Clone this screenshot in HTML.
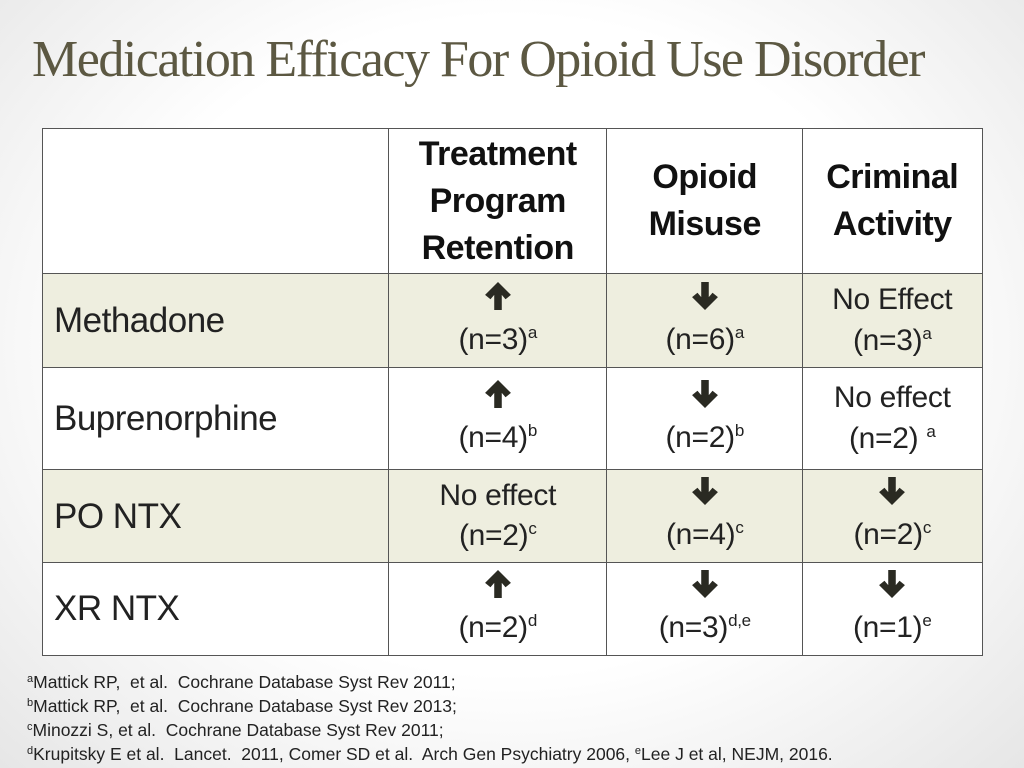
<!DOCTYPE html>
<html><head><meta charset="utf-8"><style>
body{margin:0;width:1024px;height:768px;overflow:hidden;font-family:"Liberation Sans",sans-serif;color:#222;
background:radial-gradient(ellipse at 50% 45%,#ffffff 55%,#e6e6e6 100%);position:relative}
#title{position:absolute;left:32px;top:30px;font-family:"Liberation Serif",serif;font-size:52px;color:#5c5842;letter-spacing:-1.5px;white-space:nowrap}
.cell{position:absolute;box-sizing:border-box;border:1.5px solid #555;display:flex;flex-direction:column;align-items:center;justify-content:center;text-align:center;line-height:1.35}
.hdr{font-weight:bold;font-size:34px;line-height:47px;color:#111;letter-spacing:-0.5px}
.lab{align-items:flex-start;padding-left:11px;font-size:35px;letter-spacing:-0.5px}
.v{font-size:30px;color:#222;letter-spacing:-0.3px}
.alt{background:#eeeedf}
.wht{background:#fff}
sup{font-size:17px;vertical-align:11px;line-height:0}
.fn{position:absolute;left:27px;font-size:17.5px;color:#222;white-space:nowrap}
.fn sup{font-size:11px;vertical-align:6px}
</style></head><body>
<div id="title">Medication Efficacy For Opioid Use Disorder</div>
<svg width="0" height="0" style="position:absolute"><defs>
<symbol id="up" viewBox="0 0 24 26"><path d="M12 0 L24 12 L19 16 L15.5 12 L15.5 26 L8.5 26 L8.5 12 L5 16 L0 12Z" fill="#2a2a22"/></symbol>
<symbol id="dn" viewBox="0 0 24 26"><path d="M12 26 L24 14 L19 10 L15.5 14 L15.5 0 L8.5 0 L8.5 14 L5 10 L0 14Z" fill="#2a2a22"/></symbol>
</defs></svg>
<div id="table"></div>
<script>
const cols=[42,388,606,802,981];
const rows=[128,273,367,469,562,654];
const headers=['','Treatment<br>Program<br>Retention','Opioid<br>Misuse','Criminal<br>Activity'];
const labels=['Methadone','Buprenorphine','PO NTX','XR NTX'];
const cells=[
 [['up','(n=3)','a'],['dn','(n=6)','a'],['No Effect','(n=3)','a']],
 [['up','(n=4)','b'],['dn','(n=2)','b'],['No effect','(n=2) ','a']],
 [['No effect','(n=2)','c'],['dn','(n=4)','c'],['dn','(n=2)','c']],
 [['up','(n=2)','d'],['dn','(n=3)','d,e'],['dn','(n=1)','e']]
];
const t=document.getElementById('table');
function mk(r,c,html,cls){
 const d=document.createElement('div');
 d.className='cell '+cls;
 d.style.left=cols[c]+'px';d.style.top=rows[r]+'px';
 d.style.width=(cols[c+1]-cols[c]+1.5)+'px';d.style.height=(rows[r+1]-rows[r]+1.5)+'px';
 d.innerHTML=html;t.appendChild(d);return d;
}
for(let c=0;c<4;c++){
 const d=mk(0,c,headers[c],'hdr wht');
 
 
}
for(let r=0;r<4;r++){
 const bg=r%2===0?'alt':'wht';
 const l=mk(r+1,0,labels[r],'lab '+bg);
 
 
 for(let c=0;c<3;c++){
  const [a,n,s]=cells[r][c];
  const top=(a==='up'||a==='dn')?`<svg width="26" height="28" style="margin-bottom:10px"><use href="#${a}"/></svg>`:`<div>${a}</div>`;
  const d=mk(r+1,c+1,top+`<div>${n}<sup>${s}</sup></div>`,'v '+bg);
  
  
 }
}
</script>
<div class="fn" style="top:672px"><sup>a</sup>Mattick RP,&nbsp; et al.&nbsp; Cochrane Database Syst Rev 2011;</div>
<div class="fn" style="top:696px"><sup>b</sup>Mattick RP,&nbsp; et al.&nbsp; Cochrane Database Syst Rev 2013;</div>
<div class="fn" style="top:720px"><sup>c</sup>Minozzi S, et al.&nbsp; Cochrane Database Syst Rev 2011;</div>
<div class="fn" style="top:744px"><sup>d</sup>Krupitsky E et al.&nbsp; Lancet.&nbsp; 2011, Comer SD et al.&nbsp; Arch Gen Psychiatry 2006, <sup>e</sup>Lee J et al, NEJM, 2016.</div>
</body></html>
